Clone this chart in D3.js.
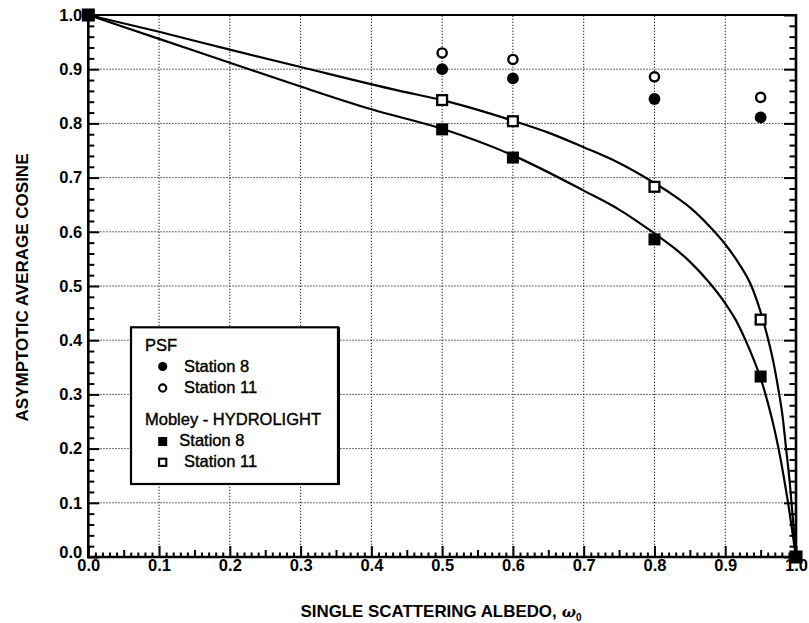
<!DOCTYPE html>
<html>
<head>
<meta charset="utf-8">
<script src="https://cdn.jsdelivr.net/npm/d3@7"></script>
<style>
  html, body { margin: 0; padding: 0; background: #fff; }
  svg { display: block; }
  text { font-family: "Liberation Sans", Arial, Helvetica, sans-serif; fill: #000; }
</style>
</head>
<body>
<div id="chart"></div>
<script>
// Albedo values at which the PSF model was evaluated
const psfAlbedo = [0.5, 0.6, 0.8, 0.95];
const psfStation8 = [0.900, 0.883, 0.845, 0.811];
const psfStation11 = [0.930, 0.918, 0.886, 0.848];

// Mobley - HYDROLIGHT results
const hydroAlbedo = [0.0, 0.5, 0.6, 0.8, 0.95, 1.0];
const hydroStation8 = [1.0, 0.789, 0.737, 0.586, 0.333, 0.0];
const hydroStation11 = [1.0, 0.843, 0.804, 0.683, 0.438, 0.0];

// Fitted curves through the HYDROLIGHT results
const fit8Albedo = [0.0, 0.1, 0.2, 0.3, 0.4, 0.5, 0.6, 0.7, 0.75, 0.8, 0.825, 0.85, 0.875, 0.9, 0.915, 0.928, 0.94, 0.95, 0.958, 0.966, 0.973, 0.979, 0.985, 0.99, 0.995, 1.0];
const fit8Cosine = [1.0, 0.956, 0.912, 0.868, 0.826, 0.790, 0.741, 0.676, 0.641, 0.597, 0.573, 0.545, 0.510, 0.468, 0.437, 0.402, 0.365, 0.330, 0.295, 0.255, 0.215, 0.175, 0.13, 0.09, 0.045, 0.0];
const fit11Albedo = [0.0, 0.1, 0.2, 0.3, 0.44, 0.5, 0.6, 0.65, 0.7, 0.75, 0.8, 0.825, 0.85, 0.875, 0.9, 0.92, 0.937, 0.95, 0.96, 0.968, 0.975, 0.981, 0.986, 0.991, 0.995, 1.0];
const fit11Cosine = [1.0, 0.969, 0.936, 0.904, 0.860, 0.843, 0.805, 0.783, 0.756, 0.727, 0.690, 0.669, 0.645, 0.614, 0.577, 0.540, 0.5, 0.452, 0.405, 0.36, 0.31, 0.26, 0.2, 0.14, 0.08, 0.0];

// Axis ticks
const xTickValues = [0.0, 0.1, 0.2, 0.3, 0.4, 0.5, 0.6, 0.7, 0.8, 0.9, 1.0];
const xTickLabels = ["0.0", "0.1", "0.2", "0.3", "0.4", "0.5", "0.6", "0.7", "0.8", "0.9", "1.0"];
const yTickValues = [0.0, 0.1, 0.2, 0.3, 0.4, 0.5, 0.6, 0.7, 0.8, 0.9, 1.0];
const yTickLabels = ["0.0", "0.1", "0.2", "0.3", "0.4", "0.5", "0.6", "0.7", "0.8", "0.9", "1.0"];

const W = 809, H = 623;
const svg = d3.select("#chart").append("svg").attr("width", W).attr("height", H);
svg.append("rect").attr("width", W).attr("height", H).attr("fill", "#fff");

const x = d3.scaleLinear().domain([0, 1]).range([88.3, 796]);
const y = d3.scaleLinear().domain([0, 1]).range([557, 15]);

// dotted grid
const grid = svg.append("g").attr("stroke", "#222").attr("stroke-width", 1).attr("stroke-dasharray", "1.3,1.7");
grid.selectAll("line.v").data(xTickValues.slice(1, -1)).join("line").attr("class", "v")
  .attr("x1", d => x(d)).attr("x2", d => x(d)).attr("y1", y(0)).attr("y2", y(1));
grid.selectAll("line.h").data(yTickValues.slice(1, -1)).join("line").attr("class", "h")
  .attr("y1", d => y(d)).attr("y2", d => y(d)).attr("x1", x(0)).attr("x2", x(1));

// legend box (white, sits over the grid)
const lg = svg.append("g");
lg.append("rect").attr("x", 131).attr("y", 327.3).attr("width", 207).attr("height", 156.7)
  .attr("fill", "#fff").attr("stroke", "#000").attr("stroke-width", 2.2);
lg.append("line").attr("x1", 338.5).attr("x2", 338.5).attr("y1", 327).attr("y2", 485).attr("stroke", "#000").attr("stroke-width", 3);

const legendFont = "16.5px";
lg.append("text").attr("x", 145).attr("y", 350.7).style("font-size", legendFont).text("PSF");
lg.append("circle").attr("cx", 162.7).attr("cy", 366.5).attr("r", 4.6).attr("fill", "#000");
lg.append("text").attr("x", 184).attr("y", 372.3).style("font-size", legendFont).text("Station 8");
lg.append("circle").attr("cx", 162.7).attr("cy", 388).attr("r", 3.6).attr("fill", "#fff").attr("stroke", "#000").attr("stroke-width", 2.1);
lg.append("text").attr("x", 184).attr("y", 392.7).style("font-size", legendFont).text("Station 11");
lg.append("text").attr("x", 145).attr("y", 425).style("font-size", legendFont).text("Mobley - HYDROLIGHT");
lg.append("rect").attr("x", 162.7 - 4.5).attr("y", 441.5 - 4.5).attr("width", 9).attr("height", 9).attr("fill", "#000");
lg.append("text").attr("x", 179.3).attr("y", 445.7).style("font-size", legendFont).text("Station 8");
lg.append("rect").attr("x", 162.7 - 3.6).attr("y", 462.3 - 3.6).attr("width", 7.2).attr("height", 7.2)
  .attr("fill", "#fff").attr("stroke", "#000").attr("stroke-width", 2.1);
lg.append("text").attr("x", 184).attr("y", 467.3).style("font-size", legendFont).text("Station 11");
lg.selectAll("text").attr("stroke", "#000").attr("stroke-width", 0.4);

// fitted curves
const line = d3.line().x(d => x(d[0])).y(d => y(d[1])).curve(d3.curveMonotoneX);
const curves = [d3.zip(fit8Albedo, fit8Cosine), d3.zip(fit11Albedo, fit11Cosine)];
svg.append("g").selectAll("path").data(curves).join("path")
  .attr("d", line).attr("fill", "none").attr("stroke", "#000").attr("stroke-width", 2.2);

// HYDROLIGHT squares
const marks = svg.append("g");
const isEnd = i => i === 0 || i === hydroAlbedo.length - 1;
marks.selectAll("rect.h11").data(d3.zip(hydroAlbedo, hydroStation11)).join("rect").attr("class", "h11")
  .attr("x", d => x(d[0]) - 4.9).attr("y", d => y(d[1]) - 4.9).attr("width", 9.8).attr("height", 9.8)
  .attr("fill", "#fff").attr("stroke", "#000").attr("stroke-width", 2.3);
marks.selectAll("rect.h8").data(d3.zip(hydroAlbedo, hydroStation8)).join("rect").attr("class", "h8")
  .attr("x", (d, i) => x(d[0]) - (isEnd(i) ? 6.5 : 6))
  .attr("y", (d, i) => y(d[1]) - (isEnd(i) ? 6.5 : 6))
  .attr("width", (d, i) => isEnd(i) ? 13 : 12)
  .attr("height", (d, i) => isEnd(i) ? 13 : 12)
  .attr("fill", "#000");

// PSF circles
marks.selectAll("circle.p11").data(d3.zip(psfAlbedo, psfStation11)).join("circle").attr("class", "p11")
  .attr("cx", d => x(d[0])).attr("cy", d => y(d[1])).attr("r", 4.6)
  .attr("fill", "#fff").attr("stroke", "#000").attr("stroke-width", 2.4);
marks.selectAll("circle.p8").data(d3.zip(psfAlbedo, psfStation8)).join("circle").attr("class", "p8")
  .attr("cx", d => x(d[0])).attr("cy", d => y(d[1])).attr("r", 5.9).attr("fill", "#000");

// axes: inward ticks, labels on left and bottom
const xMinor = d3.range(0, 101).map(i => i / 100).filter(v => Math.round(v * 100) % 10 !== 0);
const xMid = xMinor.filter(v => Math.round(v * 100) % 5 === 0);
const xSmall = xMinor.filter(v => Math.round(v * 100) % 5 !== 0);
const yMinor = d3.range(0, 51).map(i => i / 50).filter(v => Math.round(v * 50) % 5 !== 0);

function styleAxis(g) {
  g.select(".domain").remove();
  g.selectAll(".tick line").attr("stroke", "#000").attr("stroke-width", 2);
  g.selectAll(".tick text")
    .style("font-family", "'Liberation Sans', Arial, sans-serif")
    .style("font-size", "16.5px").style("font-weight", "bold").attr("fill", "#000");
}

svg.append("g").attr("transform", `translate(0,${y(0)})`)
  .call(d3.axisBottom(x).tickValues(xTickValues).tickSize(-11).tickPadding(2)
    .tickFormat((d, i) => xTickLabels[i]))
  .call(styleAxis);
svg.append("g").attr("transform", `translate(0,${y(0)})`)
  .call(d3.axisBottom(x).tickValues(xMid).tickSize(-7).tickFormat(""))
  .call(styleAxis);
svg.append("g").attr("transform", `translate(0,${y(0)})`)
  .call(d3.axisBottom(x).tickValues(xSmall).tickSize(-4.5).tickFormat(""))
  .call(styleAxis);

const yAxisG = svg.append("g").attr("transform", `translate(${x(0)},0)`)
  .call(d3.axisLeft(y).tickValues(yTickValues).tickSize(-11).tickPadding(6)
    .tickFormat((d, i) => yTickLabels[i]))
  .call(styleAxis);
yAxisG.selectAll(".tick text").filter(d => d === 0).attr("dy", "0.0em");
svg.append("g").attr("transform", `translate(${x(0)},0)`)
  .call(d3.axisLeft(y).tickValues(yMinor).tickSize(-6).tickFormat(""))
  .call(styleAxis);

svg.append("g").attr("transform", `translate(${x(1)},0)`)
  .call(d3.axisRight(y).tickValues(yTickValues).tickSize(-12).tickFormat(""))
  .call(styleAxis);
svg.append("g").attr("transform", `translate(${x(1)},0)`)
  .call(d3.axisRight(y).tickValues(yMinor).tickSize(-6.5).tickFormat(""))
  .call(styleAxis);

// frame
const frame = svg.append("g").attr("stroke", "#000").attr("fill", "none");
frame.append("line").attr("x1", x(0)).attr("x2", x(0)).attr("y1", y(1) - 1).attr("y2", y(0) + 1.2).attr("stroke-width", 2.6);
frame.append("line").attr("x1", x(0) - 1.2).attr("x2", x(1) + 1.2).attr("y1", y(0)).attr("y2", y(0)).attr("stroke-width", 2.6);
frame.append("line").attr("x1", x(0)).attr("x2", x(1)).attr("y1", y(1)).attr("y2", y(1)).attr("stroke-width", 2.2);
frame.append("line").attr("x1", x(1)).attr("x2", x(1)).attr("y1", y(1) - 1).attr("y2", y(0) + 1.2).attr("stroke-width", 2.6);

// axis titles
const xt = svg.append("text").attr("x", 300.5).attr("y", 616.5)
  .style("font-size", "16.9px").style("font-weight", "bold");
xt.append("tspan").text("SINGLE SCATTERING ALBEDO,");
xt.append("tspan").attr("dx", 5).style("font-style", "italic")
  .style("font-family", "'DejaVu Serif', 'Liberation Serif', serif").style("font-size", "15px").text("ω");
xt.append("tspan").attr("dy", 4).style("font-size", "10px").text("0");

svg.append("text").attr("transform", "translate(27.5,287.5) rotate(-90)")
  .attr("text-anchor", "middle").style("font-size", "17px").style("font-weight", "bold")
  .text("ASYMPTOTIC AVERAGE COSINE");
</script>
</body>
</html>
